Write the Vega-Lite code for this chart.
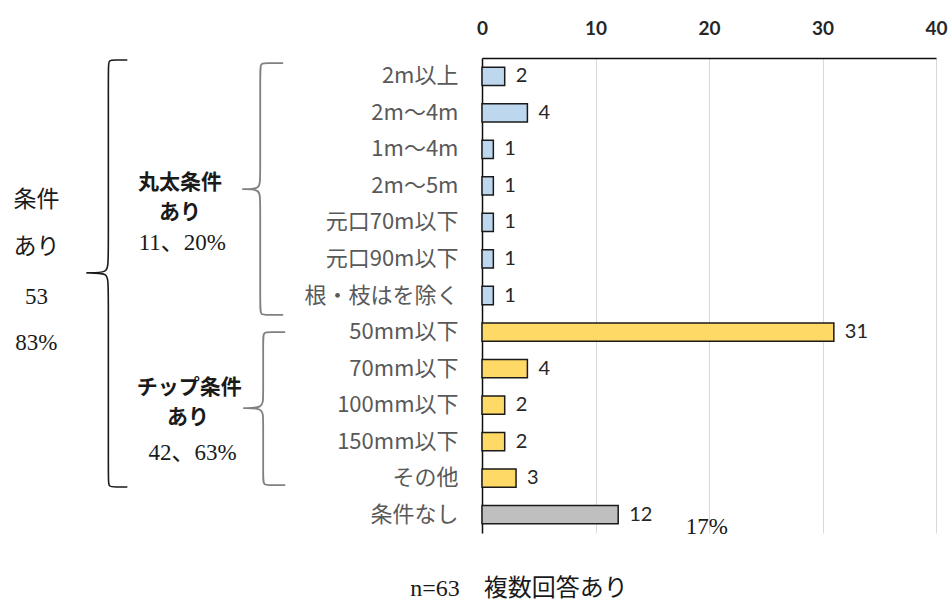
{
  "$schema": "https://vega.github.io/schema/vega-lite/v6.json",
  "autosize": {"type": "none"},
  "padding": {"left": 482, "top": 58, "right": 13, "bottom": 70},
  "width": 454,
  "height": 475,
  "background": "white",
  "config": {"view": {"stroke": null}},
  "datasets": {
    "bars": [
      {"item": "2m以上", "count": 2, "group": "丸太"},
      {"item": "2m～4m", "count": 4, "group": "丸太"},
      {"item": "1m～4m", "count": 1, "group": "丸太"},
      {"item": "2m～5m", "count": 1, "group": "丸太"},
      {"item": "元口70m以下", "count": 1, "group": "丸太"},
      {"item": "元口90m以下", "count": 1, "group": "丸太"},
      {"item": "根・枝はを除く", "count": 1, "group": "丸太"},
      {"item": "50mm以下", "count": 31, "group": "チップ"},
      {"item": "70mm以下", "count": 4, "group": "チップ"},
      {"item": "100mm以下", "count": 2, "group": "チップ"},
      {"item": "150mm以下", "count": 2, "group": "チップ"},
      {"item": "その他", "count": 3, "group": "チップ"},
      {"item": "条件なし", "count": 12, "group": "なし"}
    ],
    "braces": [
      {"brace": "outer", "o": 1, "bx": -31.25, "by": 0.055},
      {"brace": "outer", "o": 2, "bx": -32.3, "by": 0.055},
      {"brace": "outer", "o": 3, "bx": -32.92, "by": 0.055},
      {"brace": "outer", "o": 4, "bx": -32.92, "by": 0.25},
      {"brace": "outer", "o": 5, "bx": -32.92, "by": 5.6},
      {"brace": "outer", "o": 6, "bx": -32.92, "by": 5.88},
      {"brace": "outer", "o": 7, "bx": -34.86, "by": 5.88},
      {"brace": "outer", "o": 8, "bx": -34.86, "by": 5.88},
      {"brace": "outer", "o": 9, "bx": -34.86, "by": 5.88},
      {"brace": "outer", "o": 10, "bx": -32.92, "by": 5.88},
      {"brace": "outer", "o": 11, "bx": -32.92, "by": 6.16},
      {"brace": "outer", "o": 12, "bx": -32.92, "by": 11.55},
      {"brace": "outer", "o": 13, "bx": -32.92, "by": 11.74},
      {"brace": "outer", "o": 14, "bx": -32.3, "by": 11.74},
      {"brace": "outer", "o": 15, "bx": -31.25, "by": 11.74},
      {"brace": "maruta", "o": 1, "bx": -17.52, "by": 0.14},
      {"brace": "maruta", "o": 2, "bx": -18.9, "by": 0.14},
      {"brace": "maruta", "o": 3, "bx": -19.54, "by": 0.14},
      {"brace": "maruta", "o": 4, "bx": -19.54, "by": 0.34},
      {"brace": "maruta", "o": 5, "bx": -19.54, "by": 3.31},
      {"brace": "maruta", "o": 6, "bx": -19.54, "by": 3.59},
      {"brace": "maruta", "o": 7, "bx": -21.13, "by": 3.59},
      {"brace": "maruta", "o": 8, "bx": -21.13, "by": 3.59},
      {"brace": "maruta", "o": 9, "bx": -21.13, "by": 3.59},
      {"brace": "maruta", "o": 10, "bx": -19.54, "by": 3.59},
      {"brace": "maruta", "o": 11, "bx": -19.54, "by": 3.87},
      {"brace": "maruta", "o": 12, "bx": -19.54, "by": 6.83},
      {"brace": "maruta", "o": 13, "bx": -19.54, "by": 7.03},
      {"brace": "maruta", "o": 14, "bx": -18.9, "by": 7.03},
      {"brace": "maruta", "o": 15, "bx": -17.52, "by": 7.03},
      {"brace": "chip", "o": 1, "bx": -17.34, "by": 7.5},
      {"brace": "chip", "o": 2, "bx": -18.65, "by": 7.5},
      {"brace": "chip", "o": 3, "bx": -19.28, "by": 7.5},
      {"brace": "chip", "o": 4, "bx": -19.28, "by": 7.7},
      {"brace": "chip", "o": 5, "bx": -19.28, "by": 9.3},
      {"brace": "chip", "o": 6, "bx": -19.28, "by": 9.58},
      {"brace": "chip", "o": 7, "bx": -21.04, "by": 9.58},
      {"brace": "chip", "o": 8, "bx": -21.04, "by": 9.58},
      {"brace": "chip", "o": 9, "bx": -21.04, "by": 9.58},
      {"brace": "chip", "o": 10, "bx": -19.28, "by": 9.58},
      {"brace": "chip", "o": 11, "bx": -19.28, "by": 9.86},
      {"brace": "chip", "o": 12, "bx": -19.28, "by": 11.49},
      {"brace": "chip", "o": 13, "bx": -19.28, "by": 11.69},
      {"brace": "chip", "o": 14, "bx": -18.65, "by": 11.69},
      {"brace": "chip", "o": 15, "bx": -17.34, "by": 11.69}
    ],
    "serifNotes": [
      {"t": "条件", "nx": -39.26, "ny": 3.88},
      {"t": "あり", "nx": -39.26, "ny": 5.17},
      {"t": "53", "nx": -39.26, "ny": 6.54},
      {"t": "83%", "nx": -39.26, "ny": 7.8},
      {"t": "11、20%", "nx": -26.4, "ny": 5.06},
      {"t": "42、63%", "nx": -25.5, "ny": 10.81},
      {"t": "17%", "nx": 19.8, "ny": 12.84}
    ],
    "footNote": [
      {"t": "n=63　複数回答あり", "nx": 3.26, "ny": 14.52}
    ],
    "boldNotes": [
      {"t": "丸太条件", "nx": -26.6, "ny": 3.42},
      {"t": "あり", "nx": -26.6, "ny": 4.24},
      {"t": "チップ条件", "nx": -25.8, "ny": 9.03},
      {"t": "あり", "nx": -25.9, "ny": 9.85}
    ]
  },
  "layer": [
    {
      "data": {"name": "bars"},
      "mark": {"type": "bar", "stroke": "#1a1a1a", "strokeWidth": 1.5},
      "encoding": {
        "y": {
          "field": "item",
          "type": "nominal",
          "sort": null,
          "scale": {"paddingInner": 0.5, "paddingOuter": 0.25},
          "axis": {
            "orient": "left",
            "title": null,
            "domainColor": "#0d0d0d",
            "domainWidth": 1.5,
            "ticks": false,
            "tickSize": 0,
            "labelPadding": 24,
            "labelFont": "Noto Sans CJK JP",
            "labelFontSize": 22,
            "labelColor": "#595959",
            "labelLimit": 300
          }
        },
        "x": {
          "field": "count",
          "type": "quantitative",
          "scale": {"domain": [0, 40], "nice": false},
          "axis": {
            "orient": "top",
            "title": null,
            "values": [0, 10, 20, 30, 40],
            "grid": true,
            "gridColor": "#d9d9d9",
            "gridWidth": 1,
            "ticks": false,
            "tickSize": 0,
            "domain": true,
            "domainColor": "#0d0d0d",
            "domainWidth": 1.5,
            "labels": true,
            "labelFont": "Lato",
            "labelFontWeight": "bold",
            "labelFontSize": 19,
            "labelColor": "#262626",
            "labelPadding": 20,
            "labelFlush": false
          }
        },
        "color": {
          "field": "group",
          "type": "nominal",
          "scale": {"domain": ["丸太", "チップ", "なし"], "range": ["#bdd7ee", "#ffd966", "#bfbfbf"]},
          "legend": null
        }
      }
    },
    {
      "data": {"name": "bars"},
      "mark": {"type": "text", "align": "left", "baseline": "middle", "dx": 11, "font": "Lato", "fontSize": 20, "color": "#262626"},
      "encoding": {
        "y": {"field": "item", "type": "nominal", "sort": null, "scale": {"paddingInner": 0.5, "paddingOuter": 0.25}, "axis": null},
        "x": {"field": "count", "type": "quantitative", "scale": {"domain": [0, 40], "nice": false}, "title": null},
        "text": {"field": "count", "type": "quantitative"}
      }
    },
    {
      "data": {"name": "braces"},
      "transform": [{"filter": "datum.brace === 'outer'"}],
      "mark": {"type": "line", "interpolate": "basis", "strokeWidth": 1.6, "color": "#1a1a1a"},
      "encoding": {
        "x": {"field": "bx", "type": "quantitative", "scale": {"domain": [0, 40], "nice": false}, "title": null},
        "y": {"field": "by", "type": "quantitative", "scale": {"domain": [0, 13], "reverse": true, "nice": false, "zero": false}, "axis": null},
        "detail": {"field": "brace"},
        "order": {"field": "o", "type": "quantitative"}
      }
    },
    {
      "data": {"name": "braces"},
      "transform": [{"filter": "datum.brace !== 'outer'"}],
      "mark": {"type": "line", "interpolate": "basis", "strokeWidth": 1.8, "color": "#808080"},
      "encoding": {
        "x": {"field": "bx", "type": "quantitative", "scale": {"domain": [0, 40], "nice": false}, "title": null},
        "y": {"field": "by", "type": "quantitative", "scale": {"domain": [0, 13], "reverse": true, "nice": false, "zero": false}, "axis": null},
        "detail": {"field": "brace"},
        "order": {"field": "o", "type": "quantitative"}
      }
    },
    {
      "data": {"name": "serifNotes"},
      "mark": {"type": "text", "align": "center", "baseline": "middle", "font": "Liberation Serif, Noto Sans CJK JP", "fontSize": 23, "color": "#1a1a1a"},
      "encoding": {
        "x": {"field": "nx", "type": "quantitative", "scale": {"domain": [0, 40], "nice": false}, "title": null},
        "y": {"field": "ny", "type": "quantitative", "scale": {"domain": [0, 13], "reverse": true, "nice": false, "zero": false}, "axis": null},
        "text": {"field": "t", "type": "nominal"}
      }
    },
    {
      "data": {"name": "footNote"},
      "mark": {"type": "text", "align": "center", "baseline": "middle", "font": "Liberation Serif, Noto Sans CJK JP", "fontSize": 24, "color": "#1a1a1a"},
      "encoding": {
        "x": {"field": "nx", "type": "quantitative", "scale": {"domain": [0, 40], "nice": false}, "title": null},
        "y": {"field": "ny", "type": "quantitative", "scale": {"domain": [0, 13], "reverse": true, "nice": false, "zero": false}, "axis": null},
        "text": {"field": "t", "type": "nominal"}
      }
    },
    {
      "data": {"name": "boldNotes"},
      "mark": {"type": "text", "align": "center", "baseline": "middle", "font": "Noto Sans CJK JP", "fontWeight": "bold", "fontSize": 21, "color": "#1a1a1a"},
      "encoding": {
        "x": {"field": "nx", "type": "quantitative", "scale": {"domain": [0, 40], "nice": false}, "title": null},
        "y": {"field": "ny", "type": "quantitative", "scale": {"domain": [0, 13], "reverse": true, "nice": false, "zero": false}, "axis": null},
        "text": {"field": "t", "type": "nominal"}
      }
    }
  ],
  "resolve": {"scale": {"y": "independent"}}
}
